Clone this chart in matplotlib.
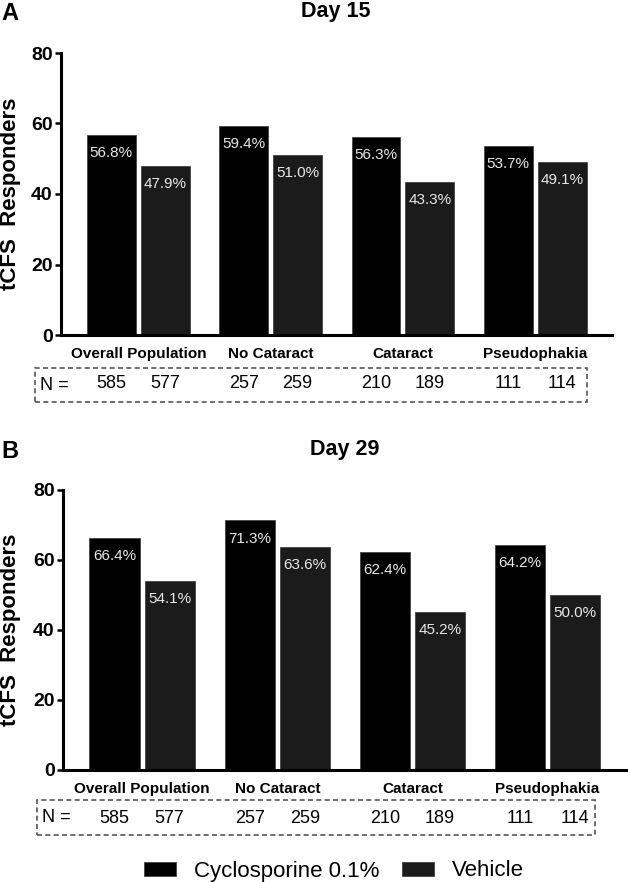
import numpy as np
import matplotlib
matplotlib.use("Agg")
import matplotlib.pyplot as plt
from matplotlib.patches import Rectangle

plt.rcParams["font.family"] = ["Liberation Sans", "DejaVu Sans"]

# ---- data ----
groups = ["Overall Population", "No Cataract", "Cataract", "Pseudophakia"]
series = ["Cyclosporine 0.1%", "Vehicle"]
day15_cyclo = [56.8, 59.4, 56.3, 53.7]
day15_vehicle = [47.9, 51.0, 43.3, 49.1]
day29_cyclo = [66.4, 71.3, 62.4, 64.2]
day29_vehicle = [54.1, 63.6, 45.2, 50.0]
n_cyclo = [585, 257, 210, 111]
n_vehicle = [577, 259, 189, 114]
yticks = [0, 20, 40, 60, 80]

W, H = 628, 882
C_CYC, C_VEH = "#000000", "#1b1b1b"


def fx(x): return x / W
def fy(y): return 1 - y / H


def panel(fig, rect, cyc, veh, title, letter, title_xy, letter_xy, box):
    ax = fig.add_axes(rect)
    x = np.arange(len(groups))
    bw, off = 0.37, 0.204
    b1 = ax.bar(x - off, cyc, bw, color=C_CYC, edgecolor="#444444", lw=0.6, label=series[0])
    b2 = ax.bar(x + off, veh, bw, color=C_VEH, edgecolor="#444444", lw=0.6, label=series[1])
    for xs, vals in [(x - off, cyc), (x + off, veh)]:
        for xi, v in zip(xs, vals):
            ax.annotate(f"{v:.1f}%", (xi, v), xytext=(0, -13), textcoords="offset points",
                        ha="center", va="center", color="#e8e8e8", fontsize=11)
    ax.set_xlim(-0.585, 3.58)
    ax.set_ylim(0, 80)
    ax.set_yticks(yticks)
    ax.set_xticks([])
    for s in ["top", "right"]:
        ax.spines[s].set_visible(False)
    for s in ["left", "bottom"]:
        ax.spines[s].set_linewidth(2.2)
    ax.tick_params(axis="y", length=4.5, width=1.8, pad=1.5, labelsize=14)
    for t in ax.get_yticklabels():
        t.set_fontweight("bold")
    # group labels and N row
    for xi, g in zip(x, groups):
        ax.annotate(g, (xi, 0), xycoords=("data", "axes fraction"), xytext=(0, -13.5),
                    textcoords="offset points", ha="center", va="center",
                    fontsize=11, fontweight="bold")
    for xs, ns in [(x - off, n_cyclo), (x + off, n_vehicle)]:
        for xi, n in zip(xs, ns):
            ax.annotate(str(n), (xi, 0), xycoords=("data", "axes fraction"), xytext=(0, -35),
                        textcoords="offset points", ha="center", va="center", fontsize=13)
    bx0, by0, bx1, by1 = box
    fig.patches.append(Rectangle((fx(bx0), fy(by1)), fx(bx1) - fx(bx0), fy(by0) - fy(by1),
                                 transform=fig.transFigure, fill=False, ec="#555555",
                                 lw=1.2, ls=(0, (3, 2))))
    fig.text(fx(bx0 + 5), fy((by0 + by1) / 2), "N =", ha="left", va="center", fontsize=13)
    fig.text(fx(title_xy[0]), fy(title_xy[1]), title, ha="center", va="center",
             fontsize=15.5, fontweight="bold")
    fig.text(fx(letter_xy[0]), fy(letter_xy[1]), letter, ha="center", va="center",
             fontsize=17, fontweight="bold")
    top, bot = rect[1] + rect[3], rect[1]
    fig.text(fx(11), (top + bot) / 2, "tCFS  Responders", rotation=90, ha="center",
             va="center", fontsize=16, fontweight="bold")
    return b1, b2


fig = plt.figure(figsize=(W / 100, H / 100), dpi=100)
hA = panel(fig, [fx(61), fy(335), fx(612) - fx(61), fy(53) - fy(335)],
           day15_cyclo, day15_vehicle, "Day 15", "A", (336, 11), (10, 13), (35, 368, 587, 402))
panel(fig, [fx(63), fy(770), fx(626) - fx(63), fy(490) - fy(770)],
      day29_cyclo, day29_vehicle, "Day 29", "B", (345, 450), (10, 451), (37, 800, 595, 835))

fig.legend(hA, series, loc="center", bbox_to_anchor=(fx(334), fy(871)), ncol=2,
           frameon=False, fontsize=16, handlelength=1.45, handleheight=0.6,
           handletextpad=0.8, columnspacing=1.0, borderpad=0, borderaxespad=0)

fig.savefig("out.png", dpi=100)
